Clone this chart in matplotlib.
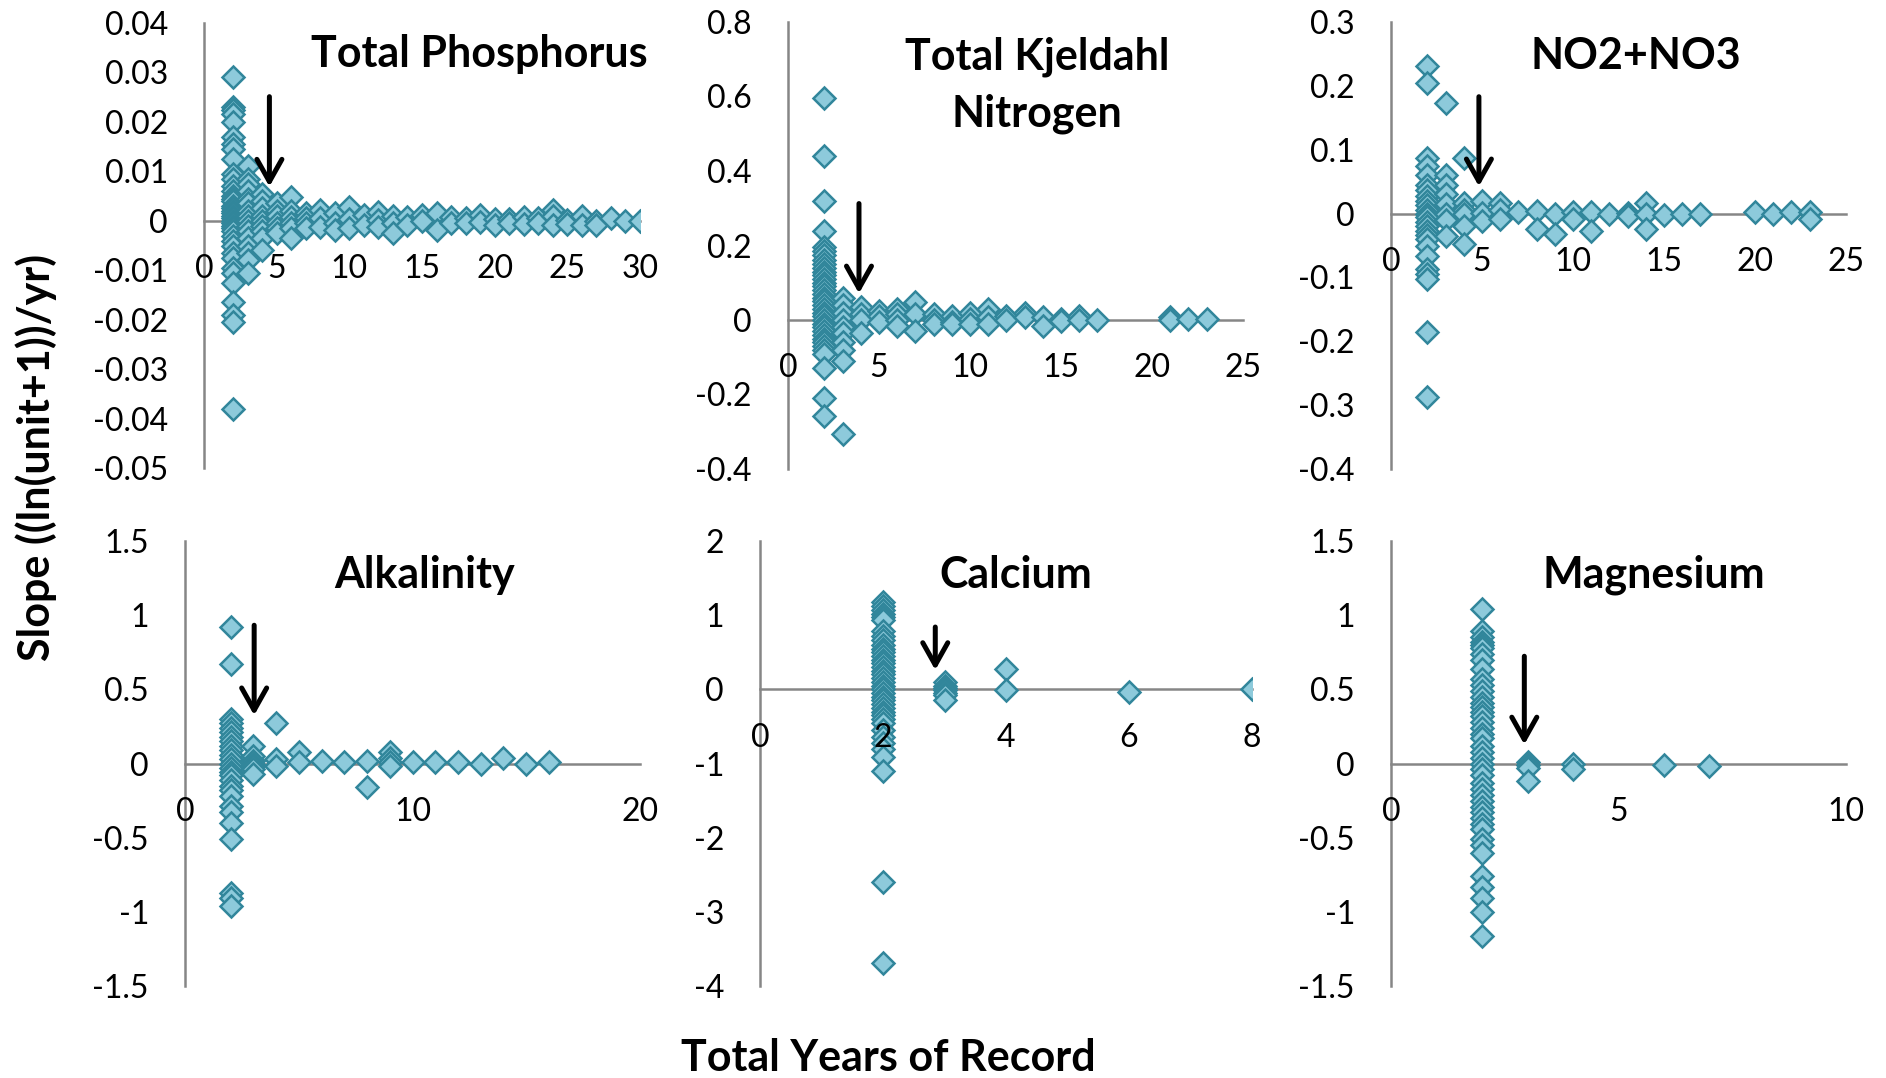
import numpy as np
import matplotlib
matplotlib.use('Agg')
import matplotlib.pyplot as plt
from matplotlib.ticker import MultipleLocator, FuncFormatter

plt.rcParams['font.family'] = ['Lato', 'DejaVu Sans']

# slope values per total years of record
tp = {2: [0.029, 0.023, 0.0225, 0.0215, 0.020, 0.017, 0.0155, 0.0145, 0.0125, 0.0095,
          0.0085, 0.007, 0.006, 0.005, 0.0045, 0.004, 0.003, 0.0025, 0.002, 0.0015,
          0.001, 0.0005, 0.0, -0.0005, -0.001, -0.0015, -0.002, -0.003, -0.004, -0.005,
          -0.0065, -0.0075, -0.0095, -0.0105, -0.0125, -0.0165, -0.019, -0.0205, -0.038],
      3: [0.011, 0.0085, 0.0075, 0.006, 0.0045, 0.0035, 0.002, 0.001, 0.0, -0.001,
          -0.002, -0.0035, -0.005, -0.0065, -0.008, -0.0105],
      4: [0.0055, 0.004, 0.0025, 0.001, 0.0, -0.001, -0.002, -0.0035, -0.006],
      5: [0.0035, 0.002, 0.001, -0.0005, -0.0015, -0.0025],
      6: [0.0048, 0.002, 0.0008, -0.0005, -0.0015, -0.0035],
      7: [0.0015, 0.0005, -0.0005, -0.0015],
      8: [0.0022, 0.0005, -0.0012],
      9: [0.0016, -0.0005, -0.0019],
      10: [0.0028, 0.0004, -0.0015],
      11: [0.0012, -0.0008],
      12: [0.0018, 0.0002, -0.0012],
      13: [0.001, -0.0005, -0.0025],
      14: [0.0008, -0.0008],
      15: [0.0012, 0.0],
      16: [0.0016, -0.0019],
      17: [0.0008, -0.0005],
      18: [0.0005, -0.0005],
      19: [0.0012, -0.0003],
      20: [0.0003, -0.0008],
      21: [0.0003, -0.0005],
      22: [0.0008, -0.0006],
      23: [0.0005, -0.0004],
      24: [0.0022, 0.0009, -0.0008],
      25: [0.0002, -0.0006],
      26: [0.0009, -0.0008],
      27: [0.0, -0.0008],
      28: [0.0005],
      29: [0.0],
      30: [0.0]}

tkn = {2: [0.597, 0.439, 0.319, 0.238, 0.196, 0.185, 0.175, 0.16, 0.15, 0.14, 0.13,
           0.12, 0.11, 0.10, 0.09, 0.08, 0.07, 0.06, 0.05, 0.04, 0.03, 0.02, 0.01, 0.0,
           -0.01, -0.02, -0.03, -0.04, -0.05, -0.06, -0.07, -0.08, -0.09, -0.13,
           -0.21, -0.258],
       3: [0.058, 0.04, 0.02, 0.0, -0.02, -0.036, -0.06, -0.08, -0.11, -0.305],
       4: [0.034, 0.015, 0.0, -0.036],
       5: [0.025, 0.012, -0.006],
       6: [0.03, 0.016, 0.0, -0.016],
       7: [0.047, 0.016, -0.03],
       8: [0.016, 0.0, -0.01],
       9: [0.012, -0.005, -0.012],
       10: [0.02, 0.003, -0.012],
       11: [0.03, 0.008, -0.012],
       12: [0.012, 0.0],
       13: [0.02, 0.008],
       14: [0.008, -0.016],
       15: [0.003, -0.004],
       16: [0.012, 0.0],
       17: [0.001],
       21: [0.008, 0.0],
       22: [0.004],
       23: [0.004]}

no23 = {2: [0.231, 0.205, 0.087, 0.075, 0.061, 0.045, 0.037, 0.027, 0.02, 0.013, 0.006,
            0.0, -0.006, -0.013, -0.02, -0.027, -0.034, -0.04, -0.051, -0.067, -0.087,
            -0.095, -0.103, -0.186, -0.288],
        3: [0.173, 0.061, 0.045, 0.03, 0.015, 0.0, -0.01, -0.035],
        4: [0.087, 0.017, 0.005, 0.0, -0.02, -0.048],
        5: [0.019, 0.001, -0.012],
        6: [0.016, 0.006, -0.009],
        7: [0.002],
        8: [0.004, -0.024],
        9: [0.0, -0.032],
        10: [0.002, -0.009],
        11: [0.002, -0.028],
        12: [0.0],
        13: [0.001, -0.004],
        14: [0.016, 0.0, -0.024],
        15: [-0.002],
        16: [0.0],
        17: [-0.001],
        20: [0.002],
        21: [-0.001],
        22: [0.002],
        23: [0.002, -0.009]}

alk = {2: [0.92, 0.67, 0.30, 0.27, 0.24, 0.21, 0.18, 0.15, 0.12, 0.09, 0.06, 0.03, 0.0,
           -0.03, -0.06, -0.08, -0.11, -0.15, -0.18, -0.22, -0.285, -0.33, -0.40,
           -0.51, -0.87, -0.91, -0.96],
       3: [0.12, 0.05, 0.02, 0.0, -0.02, -0.04, -0.07],
       4: [0.276, 0.03, -0.02],
       5: [0.08, 0.01],
       6: [0.02],
       7: [0.01],
       8: [0.018, -0.16],
       9: [0.075, 0.04, 0.007, -0.015],
       10: [0.01],
       11: [0.01],
       12: [0.01],
       13: [0.0],
       14: [0.04],
       15: [0.0],
       16: [0.01]}

ca = {2: [1.18, 1.12, 1.07, 1.02, 0.97, 0.93, 0.78, 0.72, 0.66, 0.60, 0.55, 0.50, 0.45,
          0.40, 0.35, 0.30, 0.25, 0.20, 0.15, 0.10, 0.05, 0.0, -0.05, -0.10, -0.15,
          -0.20, -0.25, -0.30, -0.35, -0.40, -0.46, -0.55, -0.64, -0.72, -0.80, -0.91,
          -1.10, -2.60, -3.69],
      3: [0.10, 0.05, 0.02, -0.01, -0.05, -0.08, -0.15],
      4: [0.27, -0.01],
      6: [-0.03],
      8: [0.01]}

mg = {2: [1.04, 0.89, 0.85, 0.82, 0.80, 0.78, 0.74, 0.70, 0.64, 0.57, 0.53, 0.49, 0.45,
          0.41, 0.38, 0.35, 0.32, 0.28, 0.24, 0.20, 0.17, 0.12, 0.08, 0.04, 0.0, -0.04,
          -0.08, -0.13, -0.17, -0.21, -0.25, -0.29, -0.33, -0.37, -0.41, -0.44, -0.51,
          -0.55, -0.60, -0.76, -0.83, -0.91, -1.0, -1.16],
      3: [0.01, -0.01, -0.03, -0.12],
      4: [0.0, -0.04],
      6: [-0.007],
      7: [-0.02]}

titles = ['Total Phosphorus', 'Total Kjeldahl\nNitrogen', 'NO2+NO3',
          'Alkalinity', 'Calcium', 'Magnesium']
series = [tp, tkn, no23, alk, ca, mg]
# axis limits and tick steps (xmax, xstep, ymin, ymax, ystep)
limits = [(30, 5, -0.05, 0.04, 0.01),
          (25, 5, -0.4, 0.8, 0.2),
          (25, 5, -0.4, 0.3, 0.1),
          (20, 10, -1.5, 1.5, 0.5),
          (8, 2, -4, 2, 1),
          (10, 5, -1.5, 1.5, 0.5)]
# arrows: x, start y, tip y
arrows = [(4.5, 0.0251, 0.0069),
          (3.9, 0.3126, 0.0713),
          (4.83, 0.183, 0.0426),
          (3.04, 0.932, 0.325),
          (2.85, 0.84, 0.26),
          (2.93, 0.723, 0.128)]

W, H = 1886, 1078
# panel boxes in pixels: left, top, right, bottom
boxes = [(204, 23, 640, 468), (788, 22, 1243, 469), (1391, 22, 1846, 469),
         (185, 541, 640, 986), (760, 541, 1252, 986), (1391, 541, 1846, 986)]
title_pos = [(479, 54), (1037, 85), (1636, 56), (425, 575), (1016, 575), (1654, 575)]

fill = '#8DCADB'
edge = '#31869B'
grey = '#868686'


def fmt(v, pos):
    v = round(v, 6)
    if v == 0:
        return '0'
    return '{:g}'.format(v)


fig = plt.figure(figsize=(W / 100, H / 100), dpi=100)

for i in range(6):
    l, t, r, b = boxes[i]
    ax = fig.add_axes([l / W, 1 - b / H, (r - l) / W, (b - t) / H])
    data = series[i]
    xs = []
    ys = []
    for yr in data:
        for s in data[yr]:
            xs.append(yr)
            ys.append(s)
    ax.plot(xs, ys, linestyle='none', marker='D', ms=11, mfc=fill, mec=edge,
            mew=1.8, zorder=2)
    xmax, xstep, ymin, ymax, ystep = limits[i]
    ax.set_xlim(0, xmax)
    ax.set_ylim(ymin, ymax)
    ax.xaxis.set_major_locator(MultipleLocator(xstep))
    ax.yaxis.set_major_locator(MultipleLocator(ystep))
    ax.xaxis.set_major_formatter(FuncFormatter(fmt))
    ax.yaxis.set_major_formatter(FuncFormatter(fmt))
    ax.spines['top'].set_visible(False)
    ax.spines['right'].set_visible(False)
    ax.spines['bottom'].set_position(('data', 0))
    for sp in ['left', 'bottom']:
        ax.spines[sp].set_color(grey)
        ax.spines[sp].set_linewidth(1.8)
        ax.spines[sp].set_zorder(0.5)
    ax.tick_params(axis='x', length=0, pad=24, labelsize=23)
    ax.tick_params(axis='y', length=0, pad=26, labelsize=23)
    ax.set_axisbelow(False)
    ax.patch.set_alpha(0)

    ax_x, y0, y1 = arrows[i]
    ax.annotate('', xy=(ax_x, y1), xytext=(ax_x, y0),
                arrowprops=dict(arrowstyle='->, head_length=0.8, head_width=0.45',
                                mutation_scale=20, color='black', lw=3.6,
                                shrinkA=0, shrinkB=0), zorder=5)

    tx, ty = title_pos[i]
    fig.text(tx / W, 1 - ty / H, titles[i], ha='center', va='center',
             fontsize=31, fontweight='bold', linespacing=1.5)

fig.text(36 / W, 1 - 457 / H, 'Slope ((ln(unit+1))/yr)', rotation=90,
         ha='center', va='center', fontsize=31, fontweight='bold')
fig.text(888 / W, 1 - 1058 / H, 'Total Years of Record', ha='center', va='center',
         fontsize=31, fontweight='bold')

fig.savefig('out.png', dpi=100)
plt.close()
